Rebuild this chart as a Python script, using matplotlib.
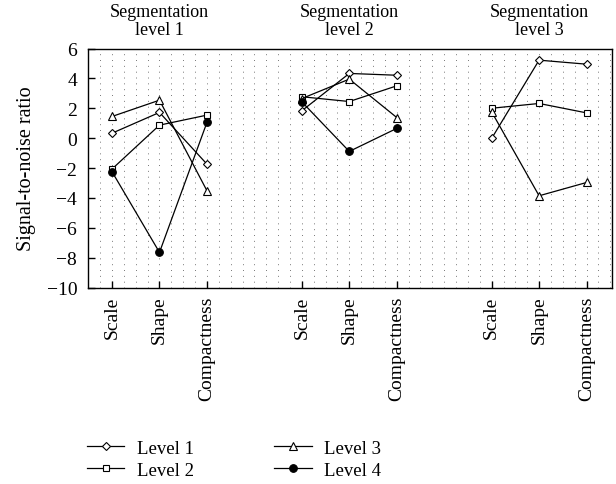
import numpy as np
import matplotlib
matplotlib.use("Agg")
import matplotlib.pyplot as plt

plt.rcParams['font.family'] = ['Liberation Serif', 'DejaVu Serif']

groups = ["Segmentation\nlevel 1", "Segmentation\nlevel 2", "Segmentation\nlevel 3"]
features = ["Scale", "Shape", "Compactness"]
series_names = ["Level 1", "Level 2", "Level 3", "Level 4"]

# values per group: [Scale, Shape, Compactness]
level1 = [[0.33, 1.72, -1.74], [1.83, 4.33, 4.21], [-0.02, 5.22, 4.95]]
level2 = [[-2.07, 0.87, 1.54], [2.77, 2.45, 3.50], [2.00, 2.32, 1.69]]
level3 = [[1.45, 2.54, -3.52], [2.65, 3.95, 1.38], [1.76, -3.86, -2.97]]
level4 = [[-2.25, -7.65, 1.05], [2.43, -0.89, 0.65], None]

series = [level1, level2, level3, level4]
styles = [
    dict(marker='D', markersize=4.5, markerfacecolor='white'),
    dict(marker='s', markersize=5, markerfacecolor='white'),
    dict(marker='^', markersize=5.5, markerfacecolor='white'),
    dict(marker='o', markersize=5.5, markerfacecolor='black'),
]

fig = plt.figure(figsize=(6.16, 4.85), dpi=100)
ax = fig.add_axes([88.3 / 616, 1 - 288.5 / 485, (611.7 - 88.3) / 616, (288.5 - 49.5) / 485])

gap = 4
positions = [[g * gap + i for i in range(len(features))] for g in range(len(groups))]

# dotted vertical grid
for xv in np.arange(-0.5, 10.6, 0.25):
    ax.axvline(xv, color='#777777', lw=0.7, linestyle=(0, (1, 5)), zorder=0)

handles = []
for name, data, st in zip(series_names, series, styles):
    h = None
    for g, vals in enumerate(data):
        if vals is None:
            continue
        h, = ax.plot(positions[g], vals, color='black', lw=0.9,
                     markeredgecolor='black', markeredgewidth=0.8, label=name,
                     zorder=3, **st)
    handles.append(h)

ax.set_xlim(-0.5, 10.53)
ax.set_ylim(-10, 6)
ax.set_yticks(np.arange(-10, 7, 2))
ax.set_yticklabels([str(v).replace('-', '\u2212') for v in range(-10, 7, 2)])
allpos = [p for grp in positions for p in grp]
ax.set_xticks(allpos)
ax.set_xticklabels(features * len(groups), rotation=90, va='top')
ax.tick_params(direction='in', length=5, width=1, labelsize=14, pad=6)
ax.tick_params(axis='y', pad=8)
for sp in ax.spines.values():
    sp.set_linewidth(1.0)

ax.set_ylabel("Signal-to-noise ratio", fontsize=14.5, labelpad=5)
ax.yaxis.set_label_coords(-0.099, 0.5)

for g, title in enumerate(groups):
    center = np.mean(positions[g])
    ax.text(center, 1.045, title, transform=ax.get_xaxis_transform(),
            ha='center', va='bottom', fontsize=13, linespacing=1.05)

fig.legend(handles=handles, labels=series_names, ncol=2, frameon=False,
           loc='upper left', bbox_to_anchor=(70 / 616, 1 - 424 / 485),
           fontsize=13.5, handlelength=2.0, columnspacing=4.3,
           labelspacing=0.25, handletextpad=0.65)

fig.savefig("out.png", dpi=100)
